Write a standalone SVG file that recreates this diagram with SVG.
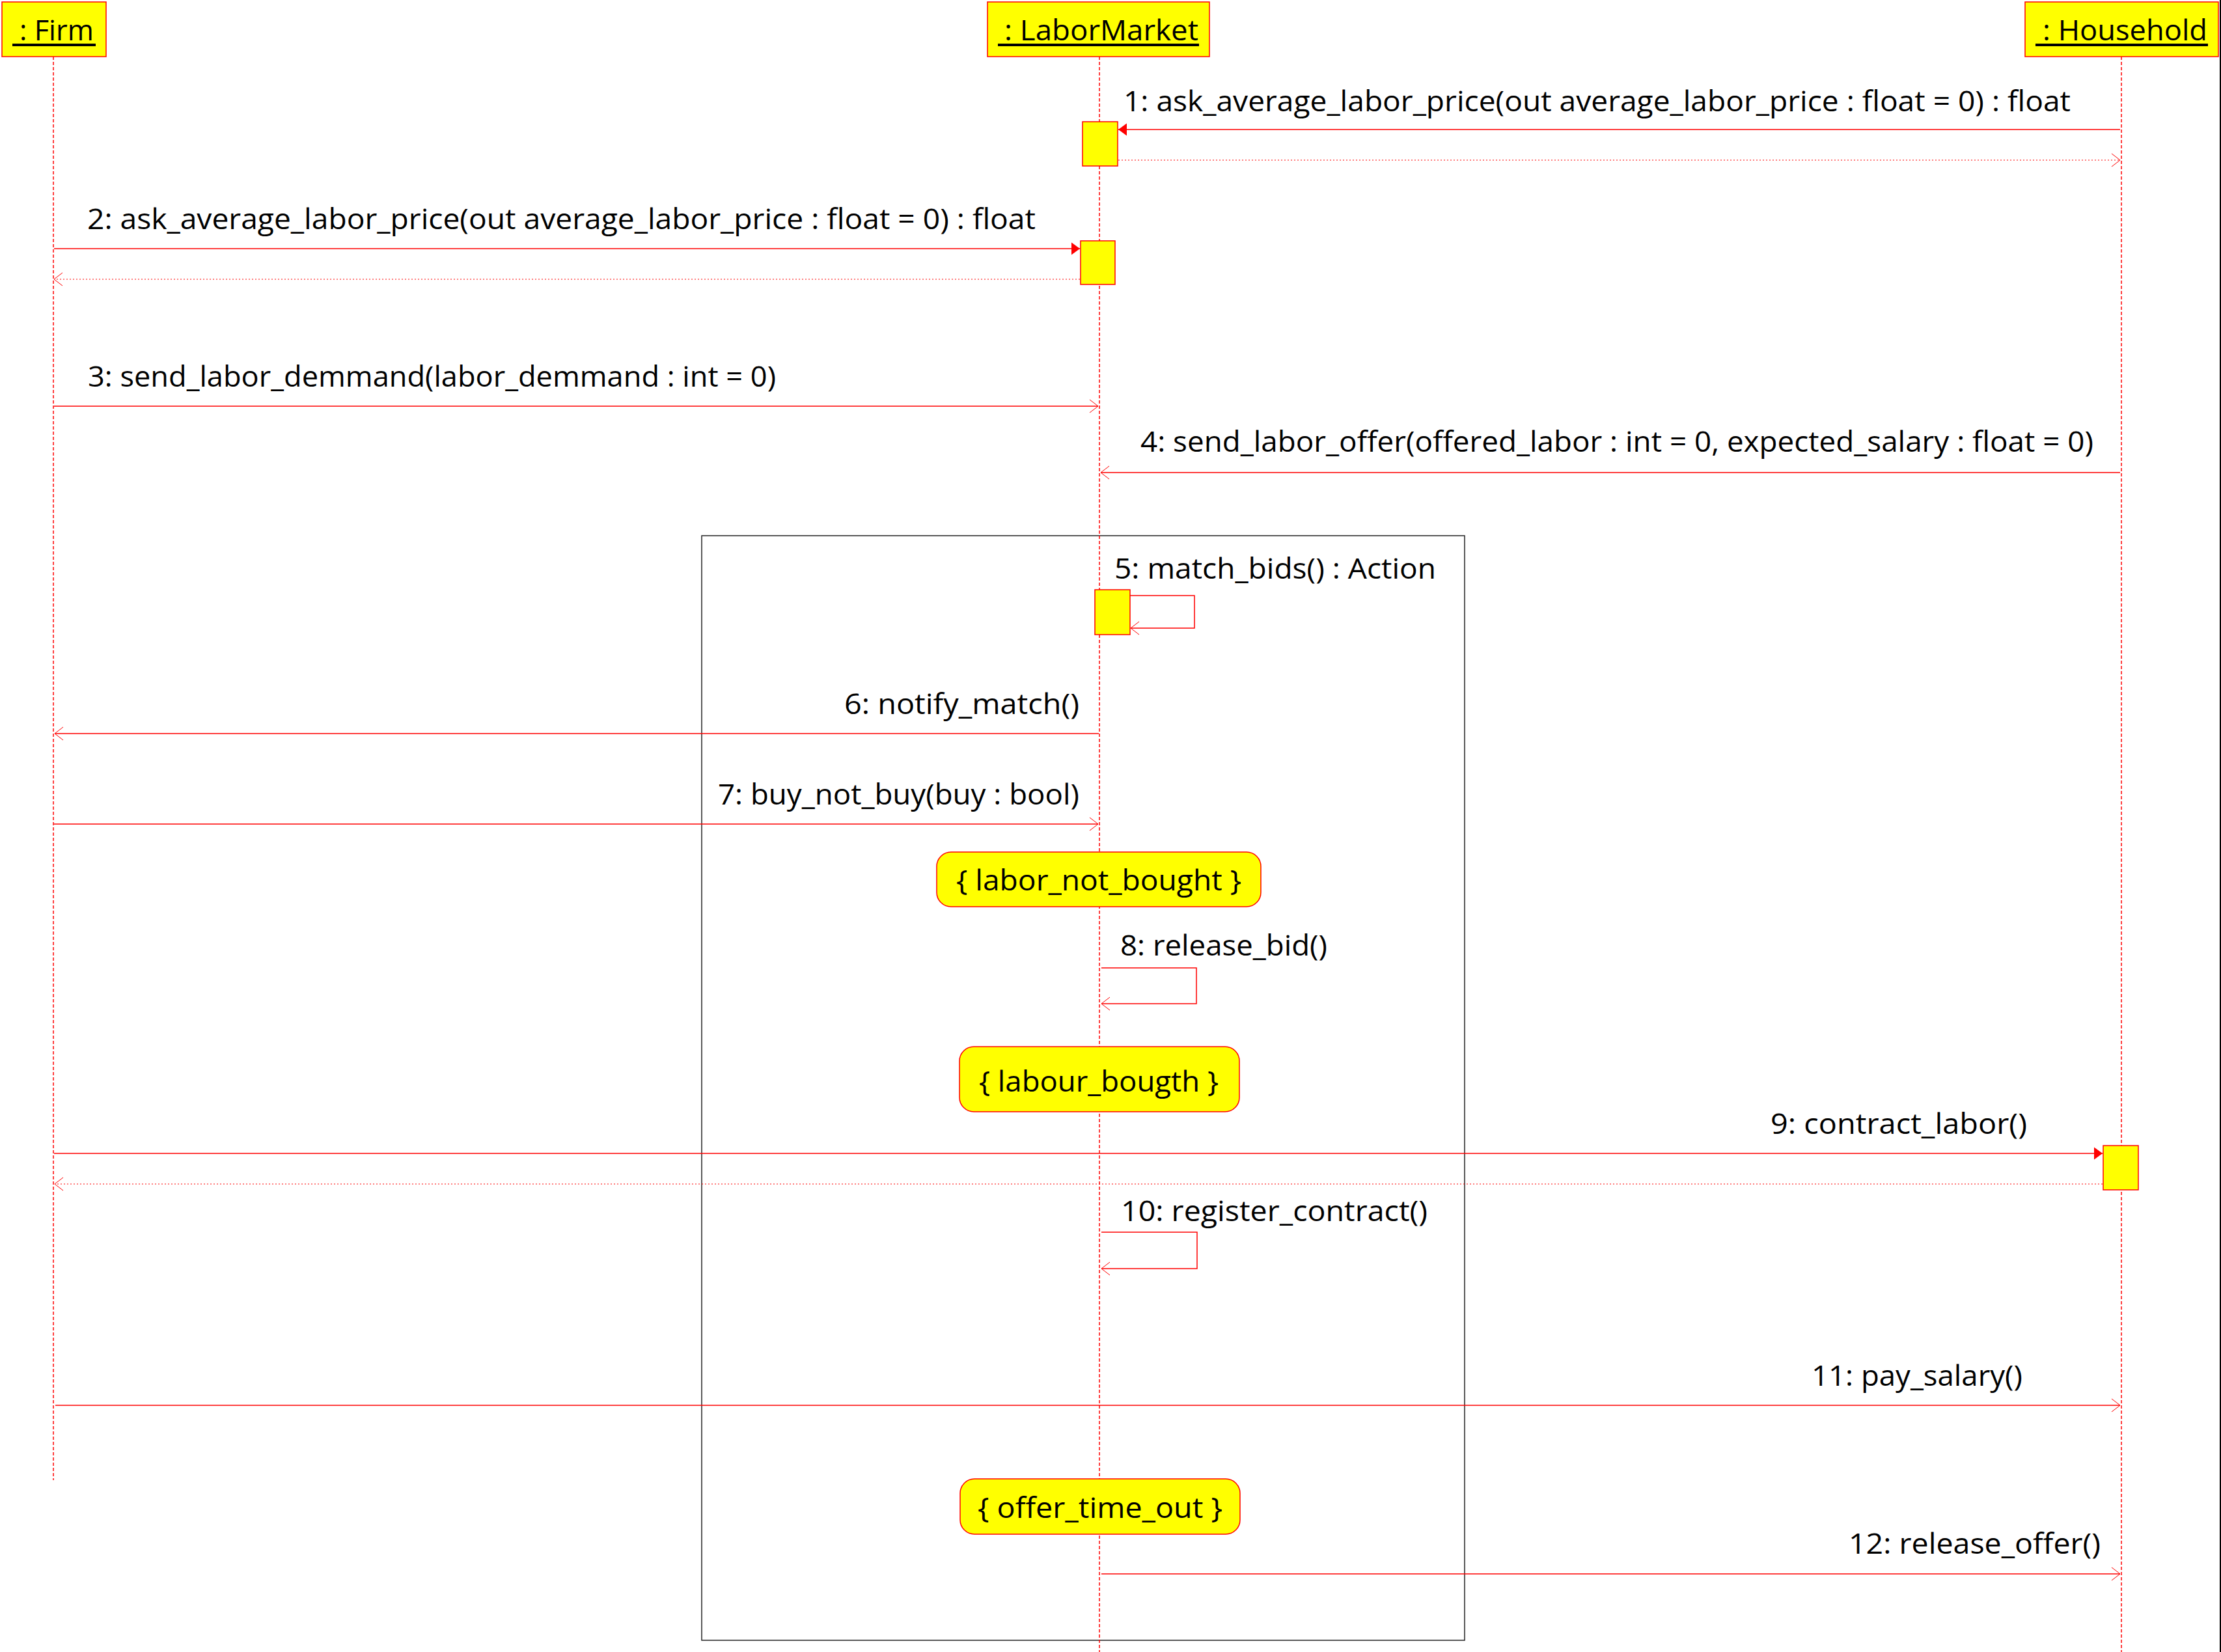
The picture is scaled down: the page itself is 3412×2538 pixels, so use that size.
<svg xmlns="http://www.w3.org/2000/svg" width="3412" height="2538" viewBox="0 0 3412 2538">
<style>
.hdr{fill:#FFFF00;stroke:#FF0000;stroke-width:1.5}
.act{fill:#FFFF00;stroke:#FF0000;stroke-width:1.5}
.life{stroke:#FF0000;stroke-width:1.5;stroke-dasharray:5 3;fill:none}
.note{fill:#FFFF00;stroke:#FF0000;stroke-width:1.5}
.msg{stroke:#FF0000;stroke-width:1.5;fill:none}
.ret{stroke:#FF0000;stroke-width:1.2;stroke-dasharray:2 3;fill:none}
.frame{fill:none;stroke:#222;stroke-width:1.5}
text{font-family:"Open Sans","Noto Sans","DejaVu Sans",sans-serif;font-size:44px;fill:#000}
</style>
<defs>
<marker id="filled" markerUnits="userSpaceOnUse" markerWidth="14" markerHeight="20" refX="13" refY="9.5" orient="auto" overflow="visible">
<path d="M0,0 L13,9.5 L0,19 z" fill="#FF0000"/>
</marker>
<marker id="open" markerUnits="userSpaceOnUse" markerWidth="14" markerHeight="22" refX="13" refY="10" orient="auto" overflow="visible">
<path d="M0,0 L13,10 L0,20" fill="none" stroke="#FF0000" stroke-width="1"/>
</marker>
</defs>
<rect x="0" y="0" width="3412" height="2538" fill="#FFFFFF"/>
<line x1="3411" y1="0" x2="3411" y2="2538" stroke="#000" stroke-width="2"/>

<g id="frame">
<rect class="frame" x="1078" y="823" width="1172" height="1697"/>
</g>

<g id="firm">
<line class="life" x1="82" y1="87" x2="82" y2="2274"/>
<rect class="hdr" x="3" y="3" width="160" height="84"/>
<text x="30" y="62" textLength="114" lengthAdjust="spacingAndGlyphs">: Firm</text>
<rect x="19" y="67" width="128" height="4" fill="#000"/>
</g>

<g id="labormarket">
<line class="life" x1="1689" y1="87" x2="1689" y2="2538"/>
<rect class="hdr" x="1517" y="3" width="341" height="84"/>
<text x="1543" y="62" textLength="298" lengthAdjust="spacingAndGlyphs">: LaborMarket</text>
<rect x="1533" y="67" width="309" height="4" fill="#000"/>
</g>

<g id="household">
<line class="life" x1="3259" y1="87" x2="3259" y2="2538"/>
<rect class="hdr" x="3111" y="3" width="297" height="84"/>
<text x="3138" y="62" textLength="253" lengthAdjust="spacingAndGlyphs">: Household</text>
<rect x="3127" y="67" width="265" height="4" fill="#000"/>
</g>

<g id="activations">
<rect id="act1" class="act" x="1663" y="187" width="54" height="68"/>
<rect id="act2" class="act" x="1660" y="370" width="53" height="67"/>
<rect id="act5" class="act" x="1682" y="906" width="54" height="69"/>
<rect id="act9" class="act" x="3231" y="1760" width="54" height="68"/>
</g>

<g id="constraints">
<g id="c-labor-not-bought">
<rect class="note" x="1439" y="1309" width="498" height="84" rx="22" ry="22"/>
<text x="1469" y="1368" textLength="438" lengthAdjust="spacingAndGlyphs">{ labor_not_bought }</text>
</g>
<g id="c-labour-bougth">
<rect class="note" x="1474" y="1608" width="430" height="100" rx="22" ry="22"/>
<text x="1504" y="1677" textLength="368" lengthAdjust="spacingAndGlyphs">{ labour_bougth }</text>
</g>
<g id="c-offer-time-out">
<rect class="note" x="1475" y="2272" width="430" height="85" rx="22" ry="22"/>
<text x="1502" y="2332" textLength="376" lengthAdjust="spacingAndGlyphs">{ offer_time_out }</text>
</g>
</g>

<g id="connectors">
<line class="msg" x1="3257" y1="199" x2="1718" y2="199" marker-end="url(#filled)"/>
<line class="ret" x1="1718" y1="246" x2="3257" y2="246" marker-end="url(#open)"/>
<line class="msg" x1="83" y1="382" x2="1659" y2="382" marker-end="url(#filled)"/>
<line class="ret" x1="1659" y1="429" x2="83" y2="429" marker-end="url(#open)"/>
<line class="msg" x1="83" y1="624" x2="1687" y2="624" marker-end="url(#open)"/>
<line class="msg" x1="3257" y1="726" x2="1691" y2="726" marker-end="url(#open)"/>
<path class="msg" d="M1736,915 H1835 V965 H1737" marker-end="url(#open)"/>
<line class="msg" x1="1688" y1="1127" x2="84" y2="1127" marker-end="url(#open)"/>
<line class="msg" x1="83" y1="1266" x2="1687" y2="1266" marker-end="url(#open)"/>
<path class="msg" d="M1692,1487 H1838 V1542 H1692" marker-end="url(#open)"/>
<line class="msg" x1="83" y1="1772" x2="3230" y2="1772" marker-end="url(#filled)"/>
<line class="ret" x1="3230" y1="1819" x2="84" y2="1819" marker-end="url(#open)"/>
<path class="msg" d="M1692,1893 H1839 V1949 H1692" marker-end="url(#open)"/>
<line class="msg" x1="85" y1="2159" x2="3257" y2="2159" marker-end="url(#open)"/>
<line class="msg" x1="1692" y1="2418" x2="3257" y2="2418" marker-end="url(#open)"/>
</g>

<g id="labels">
<text x="1726" y="171" textLength="1455" lengthAdjust="spacingAndGlyphs">1: ask_average_labor_price(out average_labor_price : float = 0) : float</text>
<text x="134" y="352" textLength="1457" lengthAdjust="spacingAndGlyphs">2: ask_average_labor_price(out average_labor_price : float = 0) : float</text>
<text x="135" y="594" textLength="1057" lengthAdjust="spacingAndGlyphs">3: send_labor_demmand(labor_demmand : int = 0)</text>
<text x="1752" y="694" textLength="1464" lengthAdjust="spacingAndGlyphs">4: send_labor_offer(offered_labor : int = 0, expected_salary : float = 0)</text>
<text x="1712" y="889" textLength="494" lengthAdjust="spacingAndGlyphs">5: match_bids() : Action</text>
<text x="1297" y="1097" textLength="361" lengthAdjust="spacingAndGlyphs">6: notify_match()</text>
<text x="1103" y="1236" textLength="555" lengthAdjust="spacingAndGlyphs">7: buy_not_buy(buy : bool)</text>
<text x="1721" y="1468" textLength="318" lengthAdjust="spacingAndGlyphs">8: release_bid()</text>
<text x="2720" y="1742" textLength="394" lengthAdjust="spacingAndGlyphs">9: contract_labor()</text>
<text x="1722" y="1876" textLength="471" lengthAdjust="spacingAndGlyphs">10: register_contract()</text>
<text x="2783" y="2129" textLength="324" lengthAdjust="spacingAndGlyphs">11: pay_salary()</text>
<text x="2840" y="2387" textLength="387" lengthAdjust="spacingAndGlyphs">12: release_offer()</text>
</g>
</svg>
